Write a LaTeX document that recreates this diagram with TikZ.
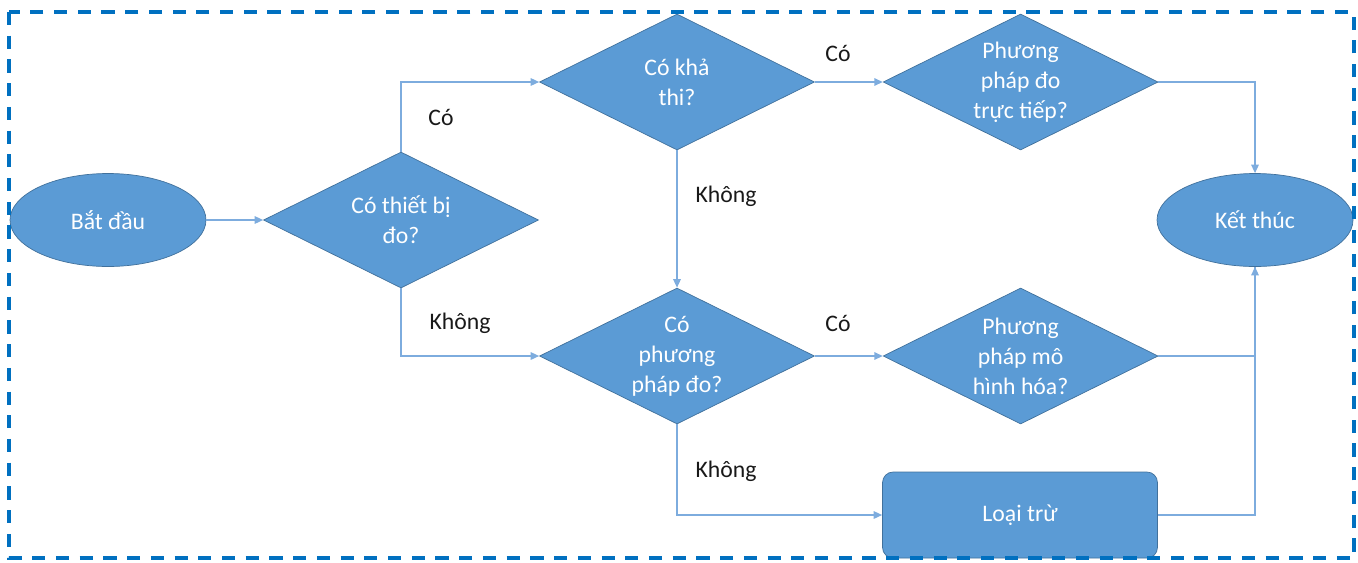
\documentclass[tikz,border=0pt]{standalone}
\usepackage{fontspec}
\setmainfont{Carlito}
\usetikzlibrary{arrows.meta,positioning,shapes.geometric}
\definecolor{shapeblue}{RGB}{91,155,213}
\definecolor{edgeblue}{RGB}{65,113,156}
\definecolor{linkblue}{RGB}{125,172,222}
\definecolor{frameblue}{RGB}{0,112,192}
\definecolor{labelgray}{RGB}{25,25,25}
\newcommand{\flowfont}{\fontsize{13.5}{17}\selectfont}
\tikzset{
  flowarr/.style={-{Triangle[length=1.7mm, width=1.5mm]}, linkblue, line width=0.85pt},
  flowline/.style={linkblue, line width=0.85pt},
  decision/.style={diamond, aspect=2.04, draw=edgeblue, fill=shapeblue, inner sep=0pt,
                   minimum width=5.5cm, minimum height=2.72cm, align=center,
                   text=white, font=\flowfont},
  terminal/.style={ellipse, draw=edgeblue, fill=shapeblue, minimum width=3.92cm,
                   minimum height=1.86cm, text=white, font=\flowfont},
  process/.style={rectangle, rounded corners=6pt, draw=edgeblue, fill=shapeblue,
                  minimum width=5.5cm, minimum height=1.72cm, text=white, font=\flowfont},
  lbl/.style={text=labelgray, font=\flowfont},
  frame/.style={frameblue, line width=2pt, dash pattern=on 7.5pt off 6pt},
}

\begin{document}
\begin{tikzpicture}[x=0.02cm, y=-0.02cm]
  \useasboundingbox (0,0) rectangle (1358,562);
  \node[terminal] (start) at (108,220) {Bắt đầu};
  \node[decision] (device) at (401,220) {Có thiết bị\\đo?};
  \node[decision] (feasible) at (677,82) {Có khả\\thi?};
  \node[decision, right=1.36cm of feasible] (direct) {Phương\\pháp đo\\trực tiếp?};
  \node[decision] (method) at (677,356) {Có\\phương\\pháp đo?};
  \node[decision, right=1.36cm of method] (model) {Phương\\pháp mô\\hình hóa?};
  \node[terminal] (stop) at (1255,220) {Kết thúc};
  \node[process] (reject) at (1020,515) {Loại trừ};
  % connectors
  \draw[flowarr] (start) -- (device);
  \draw[flowarr] (device.north) |- (feasible.west);
  \draw[flowarr] (device.south) |- (method.west);
  \draw[flowarr] (feasible) -- (direct);
  \draw[flowarr] (feasible) -- (method);
  \draw[flowarr] (method) -- (model);
  \draw[flowarr] (method.south) |- (reject.west);
  \draw[flowarr] (direct.east) -| (stop.north);
  \draw[flowarr] (model.east) -| (stop.south);
  \draw[flowline] (reject.east) -| (stop.south);
  % labels
  \node[lbl] (yesdevice) at (441,117) {Có};
  \node[lbl] (nodevice) at (460,323) {Không};
  \node[lbl] (yesfeasible) at (838,53) {Có};
  \node[lbl] (nofeasible) at (726,196) {Không};
  \node[lbl] (yesmethod) at (838,323) {Có};
  \node[lbl] (nomethod) at (726,471) {Không};
  \draw[frame] (9,12) rectangle (1354,558);
\end{tikzpicture}
\end{document}
